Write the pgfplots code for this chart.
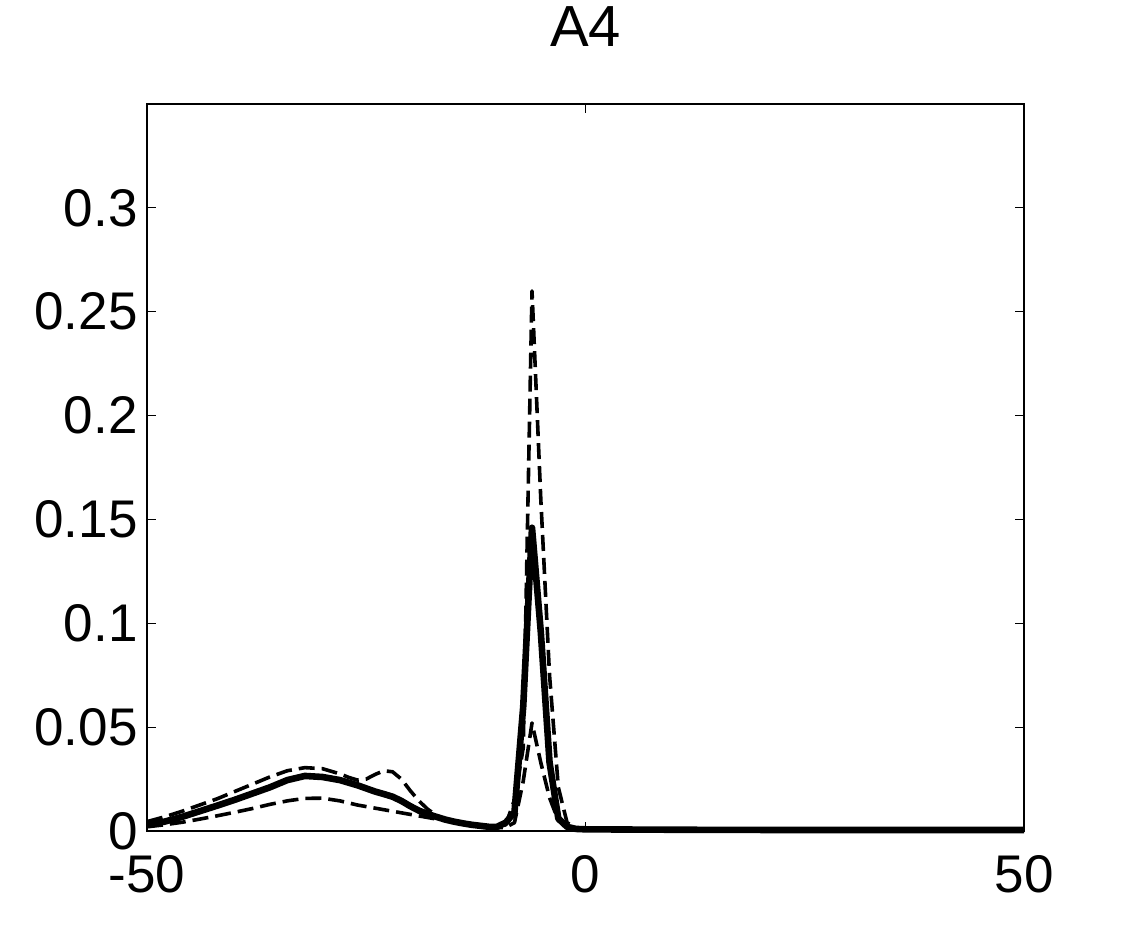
\documentclass[border=0pt]{standalone}
\usepackage{pgfplots}
\usepackage{pgfplotstable}
\pgfplotsset{compat=1.18}
\usepackage{fontspec}
\setmainfont{Liberation Sans}

% upper dashed bound
\pgfplotstableread{
x y
-50 0.0045
-48 0.0068
-46 0.0095
-44 0.0125
-42 0.0155
-40 0.019
-38 0.0225
-36 0.026
-34 0.029
-32 0.0305
-30 0.030
-28 0.0275
-27 0.0258
-26 0.0245
-25 0.025
-24 0.0272
-23 0.029
-22 0.0285
-21 0.025
-20 0.0195
-19 0.0145
-18 0.0105
-17 0.0075
-16 0.0055
-15 0.0042
-14 0.0033
-13 0.0027
-12 0.0022
-11 0.0018
-10.1 0.0015
-9.1 0.003
-8.1 0.015
-7.1 0.04
-6.1 0.26
-5.1 0.16
-4.1 0.075
-3.1 0.021
-2.1 0.004
-1.1 0.0015
0 0.001
10 0.0008
20 0.0007
30 0.0006
40 0.0006
50 0.0006
}\tabup

% mean (solid)
\pgfplotstableread{
x y
-50 0.003
-48 0.0045
-46 0.0068
-44 0.0095
-42 0.0122
-40 0.015
-38 0.018
-36 0.021
-34 0.0245
-32 0.0265
-30 0.026
-28 0.0245
-26 0.022
-24 0.019
-23 0.0178
-22 0.0165
-21 0.0145
-20 0.012
-19 0.0098
-18 0.0082
-17 0.0068
-16 0.0055
-15 0.0045
-14 0.0037
-13 0.003
-12 0.0025
-11 0.002
-10.1 0.002
-9.1 0.004
-8.1 0.009
-7.1 0.06
-6.1 0.146
-5.1 0.096
-4.1 0.033
-3.1 0.006
-2.1 0.002
-1.1 0.001
0 0.0008
10 0.0006
20 0.0005
30 0.0005
40 0.0005
50 0.0005
}\tabmean

% lower dashed bound
\pgfplotstableread{
x y
-50 0.002
-48 0.003
-46 0.0042
-44 0.0057
-42 0.0073
-40 0.009
-38 0.0108
-36 0.0128
-34 0.0145
-32 0.0157
-30 0.0158
-28 0.0145
-26 0.0125
-24 0.011
-22 0.0095
-20 0.008
-18 0.0065
-16 0.005
-14 0.0037
-12 0.0027
-11 0.0022
-10.1 0.0015
-9.1 0.0018
-8.1 0.004
-7.1 0.024
-6.1 0.052
-5.1 0.033
-4.1 0.016
-3.1 0.005
-2.1 0.002
-1.1 0.0008
0 0.0005
10 0.0004
20 0.0003
30 0.0003
40 0.0003
50 0.0003
}\tablow

\begin{document}
\begin{tikzpicture}
\begin{axis}[
  scale only axis,
  width=438.5pt, height=363.5pt,
  xmin=-50, xmax=50, ymin=0, ymax=0.35,
  clip=false,
  xtick={-50,0,50}, xticklabels={-50,0,50},
  ytick={0,0.05,0.1,0.15,0.2,0.25,0.3},
  yticklabels={0,0.05,0.1,0.15,0.2,0.25,0.3},
  scaled y ticks=false,
  tick align=inside,
  major tick length=4.5pt,
  axis line style={line width=0.6pt},
  tick style={line width=0.6pt, black},
  ticklabel style={font=\fontsize{26.5}{30}\selectfont, inner sep=0pt},
  xticklabel style={anchor=base, yshift=-31pt},
  yticklabel style={anchor=east, xshift=-4.5pt},
  title={A4},
  title style={font=\fontsize{29}{33}\selectfont, inner sep=0pt,
    at={(0.5,1)}, anchor=base, yshift=22.5pt},
]
\addplot[black, line width=1.8pt, dash pattern=on 8pt off 3.5pt, line join=round] table {\tabup};
\addplot[black, line width=1.8pt, dash pattern=on 8pt off 3.5pt, line join=round] table {\tablow};
\addplot[black, line width=3.3pt, line join=round] table {\tabmean};
\coordinate (bl) at (rel axis cs:0,0);
\coordinate (tr) at (rel axis cs:1,1);
\end{axis}
\pgfresetboundingbox
\path[use as bounding box] ([shift={(-73.5pt,-52.5pt)}]bl) rectangle ([shift={(54pt,52pt)}]tr);
\end{tikzpicture}
\end{document}
